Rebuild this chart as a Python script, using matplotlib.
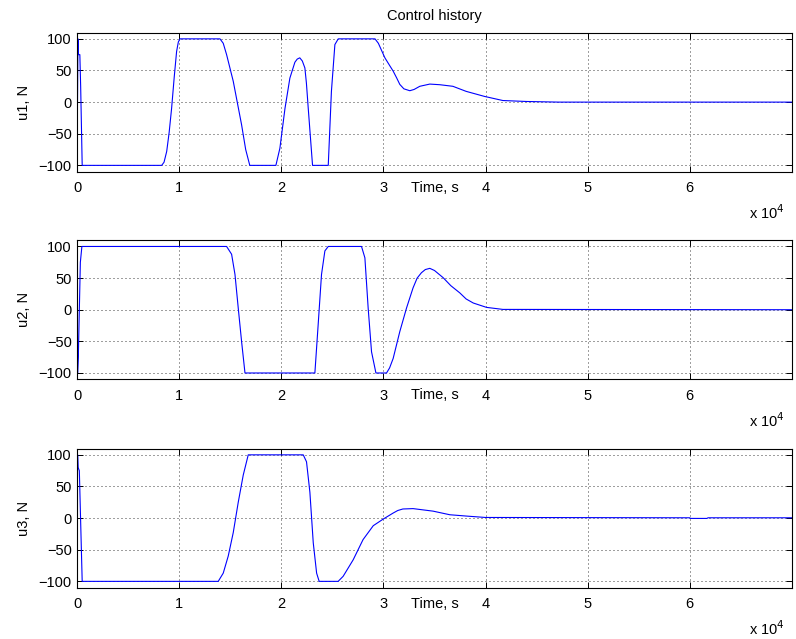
import numpy as np
import matplotlib.pyplot as plt

plt.rcParams['font.family'] = ['Liberation Sans', 'DejaVu Sans']
plt.rcParams['font.size'] = 10.5

# time in seconds, values in N
t1 = [0, 30, 60, 120, 250, 330, 480, 8270, 8500, 8760, 9000, 9240, 9500, 9730, 9900, 10060,
      13980, 14300, 14630, 15280, 16100, 16500, 16900, 19460, 19850, 20350, 20830, 21320, 21550,
      21800, 22050, 22300, 22450, 22630, 23050, 24590, 24900, 25240, 25570, 29170, 29500, 30140,
      30600, 30950, 31300, 31600, 32000, 32580, 33000, 33560, 34540, 35520, 36800, 38100,
      39900, 41700, 44000, 47200, 70000]
u1 = [-35, 20, 100, 75, 75, 25, -100, -100, -95, -78, -48, -10, 40, 80, 95, 100,
      100, 93, 75, 33, -36, -75, -100, -100, -73, -10, 38, 63, 68,
      70, 65, 54, 30, -10, -100, -100, 17, 91, 100, 100, 93, 70,
      58, 49, 38, 28, 21, 18, 20, 25, 28.5, 27.5, 25, 17,
      9, 2.5, 1, 0, 0]

t2 = [0, 30, 100, 300, 450, 14630, 15120, 15450, 15770, 16100, 16430, 23280, 23600, 23930, 24260,
      24590, 27850, 28180, 28500, 28830, 29260, 30300, 30600, 30950, 31600, 32260, 32900, 33300,
      33720, 34100, 34540, 35000, 35850, 36600, 37480, 38100, 38800, 40100, 41700, 70000]
u2 = [45, -100, -75, 75, 100, 100, 87.7, 55.8, 2.7, -50.6, -100, -100, -24, 55.8, 93,
      100, 100, 82, 2.7, -66.5, -100, -100, -92, -77, -34.6, 2.7, 34.6, 50,
      58.5, 63.5, 65.4, 62, 50.6, 38, 26.6, 17, 10.6, 3.7, 0.5, 0]

t3 = [0, 30, 80, 200, 480, 13810, 14300, 14790, 15280, 15770, 16260, 16750, 22140, 22460, 22790,
      23120, 23450, 23700, 25560, 26050, 27030, 28000, 29000, 29970, 30950, 31400, 31900, 32900,
      34860, 36500, 38300, 40000, 60000, 60100, 61700, 61800, 70000]
u3 = [20, 100, 80, 75, -100, -100, -87, -60, -23, 25, 68, 100, 100, 89, 41,
      -39, -87, -100, -100, -92, -66, -34, -12, -1.6, 8, 12, 14.4, 15,
      11, 5.3, 3, 1, 0.5, -0.5, -0.5, 0.5, 0.5]

series = [(t1, u1, 'u1, N'), (t2, u2, 'u2, N'), (t3, u3, 'u3, N')]
bottoms = [0.7313, 0.4064, 0.0803]

fig = plt.figure(figsize=(7.96, 6.39), dpi=100)
for k, (t, u, lab) in enumerate(series):
    ax = fig.add_axes([0.0971, bottoms[k], 0.8975, 0.2178])
    ax.plot(t, u, color='#0000ff', lw=0.8)
    ax.set_xlim(0, 70000)
    ax.set_ylim(-110, 110)
    ax.set_xticks([0, 10000, 20000, 30000, 40000, 50000, 60000])
    ax.set_xticklabels(['0', '1', '2', '3', '4', '5', '6'])
    ax.set_yticks([-100, -50, 0, 50, 100])
    ax.tick_params(direction='in', top=True, right=True, length=4, width=0.7)
    ax.tick_params(axis='x', pad=7)
    ax.tick_params(axis='y', pad=4)
    ax.grid(True, color='k', linestyle=(0, (1, 3)), lw=0.72, alpha=0.75)
    for s in ax.spines.values():
        s.set_linewidth(0.8)
    ax.set_xlabel('Time, s')
    ax.xaxis.set_label_coords(0.5, -0.065)
    ax.set_ylabel(lab)
    ax.yaxis.set_label_coords(-0.065, 0.5)
    ax.text(0.99, -0.295, r'x 10$^{4}$', transform=ax.transAxes, ha='right', va='center')
    if k == 0:
        ax.set_title('Control history', fontsize=10.5, pad=9)

plt.savefig('out.png', dpi=100)
